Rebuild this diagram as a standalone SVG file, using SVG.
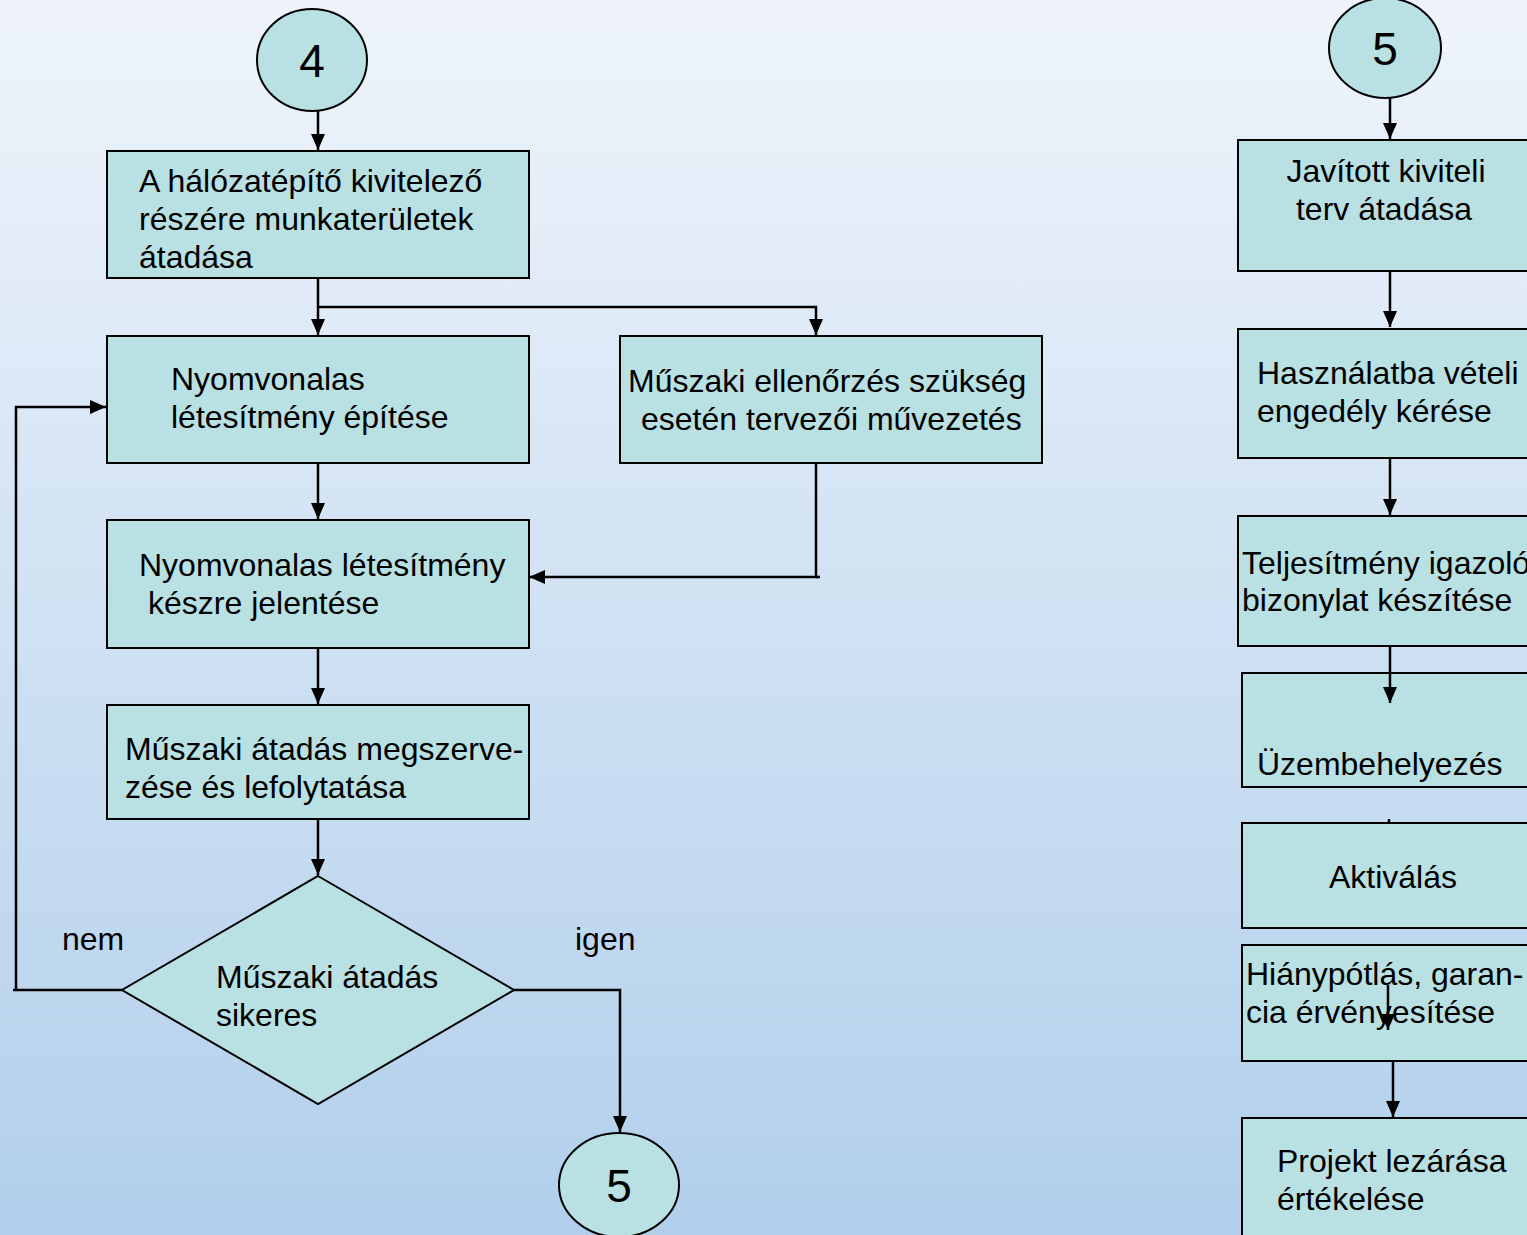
<svg xmlns="http://www.w3.org/2000/svg" width="1527" height="1235" viewBox="0 0 1527 1235">
<defs>
<linearGradient id="bg" x1="0" y1="0" x2="0" y2="1">
<stop offset="0" stop-color="#eff4fb"/>
<stop offset="1" stop-color="#b1cfeb"/>
</linearGradient>
<marker id="ah2" viewBox="0 0 16 14" refX="16" refY="7" markerWidth="16" markerHeight="14" markerUnits="userSpaceOnUse" orient="auto">
<path d="M0,0 L16,7 L0,14 Z" fill="#000"/>
</marker>
</defs>
<style>
.box{fill:#b9e0e3;stroke:#000;stroke-width:2}
.t{font-family:"Liberation Sans",Arial,sans-serif;font-size:32px;fill:#000}
.n{font-family:"Liberation Sans",Arial,sans-serif;font-size:46px;fill:#000;text-anchor:middle}
.c{fill:none;stroke:#000;stroke-width:2.5}
.a{fill:none;stroke:#000;stroke-width:2.5;marker-end:url(#ah2)}
</style>
<rect x="0" y="0" width="1527" height="1235" fill="url(#bg)"/>

<g id="n4"><ellipse cx="312" cy="60" rx="55" ry="51" class="box"/><text class="n" x="312" y="77">4</text></g>
<g id="b1"><rect class="box" x="107" y="151" width="422" height="127"/>
<text class="t" x="139" y="192">A hálózatépítő kivitelező</text>
<text class="t" x="139" y="230">részére munkaterületek</text>
<text class="t" x="139" y="268">átadása</text></g>
<g id="b2"><rect class="box" x="107" y="336" width="422" height="127"/>
<text class="t" x="171" y="390">Nyomvonalas</text>
<text class="t" x="171" y="428">létesítmény építése</text></g>
<g id="b3"><rect class="box" x="620" y="336" width="422" height="127"/>
<text class="t" x="628" y="392">Műszaki ellenőrzés szükség</text>
<text class="t" x="641" y="430">esetén tervezői művezetés</text></g>
<g id="b4"><rect class="box" x="107" y="520" width="422" height="128"/>
<text class="t" x="139" y="576">Nyomvonalas létesítmény</text>
<text class="t" x="148" y="614">készre jelentése</text></g>
<g id="b5"><rect class="box" x="107" y="705" width="422" height="114"/>
<text class="t" x="125" y="760">Műszaki átadás megszerve-</text>
<text class="t" x="125" y="798">zése és lefolytatása</text></g>
<g id="d1"><polygon class="box" points="318,876 514,990 318,1104 122,990"/>
<text class="t" x="216" y="988">Műszaki átadás</text>
<text class="t" x="216" y="1026">sikeres</text></g>
<g id="lbl"><text class="t" x="62" y="950">nem</text><text class="t" x="575" y="950">igen</text></g>
<g id="n5a"><ellipse cx="619" cy="1185" rx="60" ry="52" class="box"/><text class="n" x="619" y="1202">5</text></g>

<g id="n5b"><ellipse cx="1385" cy="48" rx="56" ry="50" class="box"/><text class="n" x="1385" y="65">5</text></g>
<g id="r1"><rect class="box" x="1238" y="140" width="300" height="131"/>
<text class="t" x="1386" y="182" text-anchor="middle">Javított kiviteli</text>
<text class="t" x="1384" y="220" text-anchor="middle">terv átadása</text></g>
<g id="r2"><rect class="box" x="1238" y="329" width="300" height="129"/>
<text class="t" x="1257" y="384">Használatba vételi</text>
<text class="t" x="1257" y="422">engedély kérése</text></g>
<g id="r3"><rect class="box" x="1238" y="516" width="300" height="130"/>
<text class="t" x="1242" y="574">Teljesítmény igazoló</text>
<text class="t" x="1242" y="611">bizonylat készítése</text></g>
<g id="r4"><rect class="box" x="1242" y="673" width="300" height="114"/>
<text class="t" x="1257" y="775">Üzembehelyezés</text></g>
<g id="r5"><rect class="box" x="1242" y="823" width="300" height="105"/>
<text class="t" x="1393" y="888" text-anchor="middle">Aktiválás</text></g>
<g id="r6"><rect class="box" x="1242" y="945" width="300" height="116"/>
<text class="t" x="1246" y="985">Hiánypótlás, garan-</text>
<text class="t" x="1246" y="1023">cia érvényesítése</text></g>
<g id="r7"><rect class="box" x="1242" y="1118" width="300" height="130"/>
<text class="t" x="1277" y="1172">Projekt lezárása</text>
<text class="t" x="1277" y="1210">értékelése</text></g>

<g id="connectors">
<path class="a" d="M318,111 V150"/>
<path class="a" d="M318,278 V335"/>
<path class="a" d="M318,307 H816 V335"/>
<path class="a" d="M318,463 V519"/>
<path class="c" d="M816,463 V577 M820,577 H816"/>
<path class="a" d="M818,577 H529"/>
<path class="a" d="M318,648 V704"/>
<path class="a" d="M318,819 V875"/>
<path class="c" d="M122,990 H13"/>
<path class="a" d="M16,990 V407 H106"/>
<path class="a" d="M514,990 H620 V1132"/>
<path class="a" d="M1390,98 V139"/>
<path class="a" d="M1390,271 V327"/>
<path class="a" d="M1390,458 V515"/>
<path class="a" d="M1390,647 V703"/>
<path class="c" d="M1389,819 V824"/>
<path class="a" d="M1388,985 V1030"/>
<path class="a" d="M1393,1061 V1117"/>
</g>
</svg>
